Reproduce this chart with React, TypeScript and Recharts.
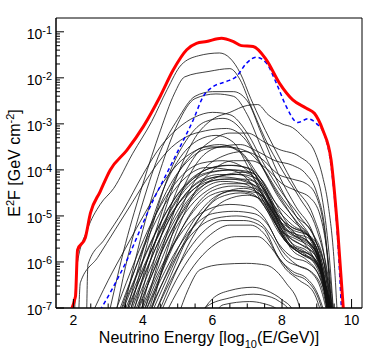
import React from "react";
import { LineChart, Line, XAxis, YAxis, ReferenceArea } from "recharts";

// each curve: [log10(E/GeV), log10(E^2 F)]
type Pt = [number, number];

const totalFlux: Pt[] = [
  [1.79, -7.2], [2.06, -6.75], [2.12, -5.74], [2.34, -5.48], [2.49, -4.94], [2.77, -4.47],
  [3.06, -4.0], [3.54, -3.57], [4.01, -3.06], [4.49, -2.41], [4.87, -1.83], [5.26, -1.39],
  [5.54, -1.25], [5.83, -1.21], [6.26, -1.14], [6.59, -1.21], [6.83, -1.3], [7.17, -1.32],
  [7.55, -1.61], [7.93, -2.12], [8.31, -2.48], [8.7, -2.66], [8.93, -2.77], [9.17, -3.13],
  [9.41, -3.78], [9.6, -5.3], [9.78, -7.2],
];

const diffuseFlux: Pt[] = [
  [2.77, -7.05], [3.15, -6.54], [3.54, -5.96], [3.92, -5.3], [4.3, -4.65], [4.59, -4.22],
  [5.02, -3.57], [5.45, -2.91], [5.73, -2.41], [6.02, -2.19], [6.4, -2.08], [6.69, -1.97],
  [6.98, -1.68], [7.26, -1.55], [7.55, -1.68], [7.84, -2.12], [8.12, -2.62], [8.45, -2.97],
  [8.75, -2.89], [9.0, -3.0], [9.2, -3.2], [9.4, -3.85], [9.6, -5.5], [9.72, -7.2],
];

const sourceFluxes: Pt[][] = [
  // brightest
  [[2.03, -7.2], [2.1, -6.1], [2.4, -5.3], [2.77, -4.75], [3.16, -4.4], [3.7, -3.65], [4.25, -2.95], [4.7, -2.25], [5.1, -1.72], [5.6, -1.52], [6.2, -1.46], [6.5, -1.57], [6.8, -1.9], [7.1, -2.45], [7.4, -2.95], [7.9, -3.7], [8.4, -4.4], [8.9, -5.0], [9.2, -5.8], [9.45, -7.3]],
  [[3.0, -7.2], [3.5, -5.6], [4.0, -4.3], [4.5, -3.15], [4.9, -2.35], [5.2, -1.98], [5.9, -1.86], [6.5, -1.8], [6.8, -2.05], [7.1, -2.6], [7.5, -3.3], [8.0, -4.0], [8.5, -4.6], [9.0, -5.3], [9.3, -6.2], [9.5, -7.3]],
  // upper group
  [[3.2, -7.2], [3.5, -6.1], [4.0, -4.7], [4.5, -3.6], [5.0, -2.9], [5.5, -2.4], [6.0, -2.3], [6.6, -2.3], [7.0, -2.5], [7.4, -3.2], [7.9, -4.1], [8.4, -4.8], [8.9, -5.4], [9.2, -6.2], [9.4, -7.3]],
  [[3.4, -7.2], [4.0, -5.3], [4.5, -4.0], [5.0, -3.0], [5.5, -2.45], [6.1, -2.35], [6.6, -2.4], [7.0, -2.8], [7.4, -3.5], [7.9, -4.3], [8.4, -5.0], [8.9, -5.6], [9.25, -6.5], [9.4, -7.3]],
  [[3.8, -7.2], [4.5, -5.2], [5.0, -4.1], [5.5, -3.3], [6.0, -2.9], [6.5, -2.75], [7.0, -2.6], [7.3, -2.58], [7.6, -2.8], [8.0, -3.0], [8.3, -3.08], [8.6, -3.28], [8.95, -3.62], [9.17, -4.15], [9.32, -4.72], [9.5, -6.0], [9.6, -7.3]],
  [[3.6, -7.2], [4.2, -5.4], [4.8, -4.0], [5.3, -3.3], [5.8, -2.95], [6.3, -2.88], [6.8, -3.1], [7.2, -3.6], [7.7, -4.3], [8.2, -4.9], [8.7, -5.5], [9.1, -6.2], [9.35, -7.3]],
  [[2.38, -7.2], [2.42, -6.05], [2.9, -5.5], [3.44, -4.87], [4.0, -4.1], [4.5, -3.5], [5.0, -3.1], [5.5, -2.85], [6.0, -2.75], [6.5, -2.8], [7.0, -3.2], [7.5, -3.9], [8.0, -4.5], [8.5, -5.0], [9.0, -5.6], [9.3, -6.4], [9.45, -7.3]],
  [[2.49, -7.2], [3.0, -6.4], [3.5, -5.7], [4.11, -4.87], [4.6, -4.25], [5.1, -3.8], [5.6, -3.55], [6.2, -3.45], [6.8, -3.6], [7.3, -4.1], [7.8, -4.7], [8.3, -5.1], [8.8, -5.5], [9.1, -6.1], [9.35, -7.3]],
  [[2.15, -7.2], [2.2, -6.45], [2.7, -5.9], [3.2, -5.3], [3.7, -4.7], [4.2, -4.1], [4.7, -3.6], [5.2, -3.3], [5.8, -3.15], [6.4, -3.1], [6.9, -3.3], [7.4, -3.9], [7.9, -4.6], [8.4, -5.1], [8.9, -5.6], [9.2, -6.3], [9.4, -7.3]],
  // middle group
  [[3.9, -7.2], [4.5, -5.5], [5.0, -4.4], [5.5, -3.7], [6.0, -3.35], [6.5, -3.2], [7.0, -3.2], [7.5, -3.4], [7.9, -3.55], [8.5, -3.71], [8.9, -4.0], [9.15, -4.6], [9.35, -5.8], [9.5, -7.3]],
  [[4.0, -7.2], [4.6, -5.6], [5.1, -4.5], [5.6, -3.8], [6.2, -3.5], [6.8, -3.45], [7.3, -3.6], [7.8, -3.8], [8.3, -3.9], [8.7, -4.1], [9.0, -4.5], [9.25, -5.4], [9.45, -7.3]],
  [[3.5, -7.2], [4.1, -5.5], [4.6, -4.4], [5.1, -3.7], [5.6, -3.35], [6.1, -3.25], [6.6, -3.4], [7.0, -3.9], [7.4, -4.5], [7.9, -5.0], [8.4, -5.4], [8.9, -5.9], [9.2, -6.5], [9.35, -7.3]],
  [[3.7, -7.2], [4.3, -5.5], [4.8, -4.4], [5.3, -3.75], [5.8, -3.5], [6.4, -3.5], [7.0, -3.6], [7.4, -3.9], [7.9, -4.5], [8.4, -5.0], [8.9, -5.4], [9.2, -6.0], [9.4, -7.3]],
  [[4.2, -7.2], [4.8, -5.5], [5.3, -4.5], [5.8, -3.95], [6.3, -3.7], [6.9, -3.6], [7.4, -3.75], [7.9, -4.1], [8.3, -4.2], [8.7, -4.3], [9.0, -4.6], [9.25, -5.5], [9.45, -7.3]],
  [[3.3, -7.2], [3.8, -6.1], [4.3, -5.1], [4.8, -4.3], [5.3, -3.8], [5.8, -3.55], [6.4, -3.5], [6.9, -3.7], [7.3, -4.2], [7.8, -4.8], [8.3, -5.2], [8.8, -5.45], [9.1, -6.0], [9.35, -7.3]],
  [[4.1, -7.2], [4.6, -6.1], [5.1, -5.1], [5.6, -4.35], [6.1, -3.95], [6.6, -3.8], [7.1, -3.8], [7.6, -4.0], [8.0, -4.3], [8.4, -4.45], [8.8, -4.6], [9.1, -5.0], [9.3, -5.8], [9.5, -7.3]],
  // bulk
  [[3.3, -7.2], [3.8, -6.3], [4.3, -5.45], [4.8, -4.75], [5.3, -4.25], [5.8, -4.0], [6.4, -3.9], [7.0, -3.95], [7.4, -4.2], [7.9, -4.95], [8.3, -5.35], [8.8, -5.5], [9.1, -5.95], [9.4, -7.3]],
  [[3.45, -7.2], [3.95, -6.3], [4.45, -5.4], [4.95, -4.7], [5.45, -4.25], [6.0, -4.05], [6.6, -4.0], [7.1, -4.05], [7.5, -4.4], [7.9, -5.05], [8.4, -5.45], [8.8, -5.6], [9.15, -6.15], [9.4, -7.3]],
  [[3.6, -7.2], [4.1, -6.2], [4.6, -5.3], [5.1, -4.65], [5.6, -4.25], [6.2, -4.1], [6.8, -4.1], [7.3, -4.2], [7.7, -4.7], [8.1, -5.3], [8.5, -5.5], [8.9, -5.7], [9.2, -6.35], [9.45, -7.3]],
  [[3.7, -7.2], [4.2, -6.3], [4.7, -5.4], [5.2, -4.75], [5.7, -4.35], [6.3, -4.2], [6.9, -4.2], [7.4, -4.35], [7.8, -4.9], [8.2, -5.45], [8.6, -5.65], [9.0, -5.9], [9.25, -6.45], [9.45, -7.3]],
  [[3.85, -7.2], [4.35, -6.3], [4.85, -5.4], [5.35, -4.8], [5.85, -4.45], [6.4, -4.3], [7.0, -4.3], [7.5, -4.5], [7.9, -5.1], [8.3, -5.6], [8.7, -5.75], [9.0, -6.0], [9.3, -6.65], [9.5, -7.3]],
  [[4.0, -7.2], [4.5, -6.3], [5.0, -5.45], [5.5, -4.8], [6.0, -4.45], [6.6, -4.35], [7.2, -4.4], [7.6, -4.7], [8.0, -5.3], [8.4, -5.7], [8.8, -5.85], [9.1, -6.2], [9.35, -6.85], [9.5, -7.3]],
  [[3.25, -7.2], [3.75, -6.2], [4.25, -5.3], [4.75, -4.6], [5.25, -4.15], [5.8, -3.95], [6.5, -4.0], [7.0, -4.2], [7.5, -4.8], [8.0, -5.35], [8.4, -5.5], [8.9, -5.75], [9.2, -6.4], [9.4, -7.3]],
  [[3.55, -7.2], [4.05, -6.25], [4.55, -5.4], [5.05, -4.7], [5.55, -4.3], [6.1, -4.15], [6.7, -4.1], [7.2, -4.25], [7.6, -4.75], [8.0, -5.25], [8.4, -5.4], [8.8, -5.6], [9.1, -6.05], [9.4, -7.3]],
  [[4.15, -7.2], [4.65, -6.3], [5.15, -5.5], [5.65, -4.9], [6.15, -4.55], [6.7, -4.45], [7.3, -4.5], [7.7, -4.9], [8.1, -5.5], [8.5, -5.8], [8.9, -5.95], [9.2, -6.4], [9.4, -6.95], [9.5, -7.3]],
  [[3.4, -7.2], [3.9, -6.3], [4.4, -5.5], [4.9, -4.85], [5.4, -4.45], [5.9, -4.25], [6.5, -4.2], [7.1, -4.3], [7.6, -4.85], [8.1, -5.55], [8.5, -5.8], [8.9, -6.0], [9.2, -6.55], [9.4, -7.3]],
  [[4.3, -7.2], [4.8, -6.3], [5.3, -5.45], [5.8, -4.85], [6.3, -4.5], [6.9, -4.4], [7.4, -4.55], [7.8, -5.0], [8.2, -5.6], [8.6, -5.85], [9.0, -6.05], [9.3, -6.65], [9.5, -7.3]],
  [[3.15, -7.2], [3.65, -6.2], [4.15, -5.3], [4.65, -4.6], [5.15, -4.1], [5.7, -3.85], [6.3, -3.8], [6.9, -3.95], [7.3, -4.3], [7.8, -5.0], [8.3, -5.3], [8.8, -5.45], [9.1, -6.0], [9.35, -7.3]],
  [[3.75, -7.2], [4.25, -6.3], [4.75, -5.45], [5.25, -4.8], [5.75, -4.4], [6.3, -4.25], [6.9, -4.3], [7.4, -4.6], [7.8, -5.15], [8.2, -5.6], [8.6, -5.75], [9.0, -6.0], [9.3, -6.65], [9.5, -7.3]],
  [[3.5, -7.2], [4.0, -6.2], [4.5, -5.3], [5.0, -4.6], [5.5, -4.15], [6.0, -3.95], [6.6, -3.9], [7.1, -4.0], [7.5, -4.5], [7.9, -5.1], [8.3, -5.4], [8.75, -5.55], [9.1, -6.05], [9.4, -7.3]],
  [[3.95, -7.2], [4.45, -6.3], [4.95, -5.5], [5.45, -4.9], [5.95, -4.55], [6.5, -4.45], [7.1, -4.5], [7.5, -4.8], [7.9, -5.35], [8.3, -5.7], [8.7, -5.85], [9.05, -6.15], [9.3, -6.75], [9.45, -7.3]],
  [[3.65, -7.2], [4.15, -6.25], [4.65, -5.4], [5.15, -4.7], [5.65, -4.3], [6.2, -4.15], [6.8, -4.2], [7.3, -4.4], [7.7, -4.95], [8.1, -5.4], [8.5, -5.6], [8.9, -5.8], [9.2, -6.35], [9.45, -7.3]],
  [[4.4, -7.2], [4.9, -6.3], [5.4, -5.5], [5.9, -4.95], [6.4, -4.65], [7.0, -4.55], [7.5, -4.7], [7.9, -5.25], [8.3, -5.75], [8.7, -5.95], [9.0, -6.2], [9.3, -6.85], [9.45, -7.3]],
  [[3.35, -7.2], [3.85, -6.25], [4.35, -5.4], [4.85, -4.7], [5.35, -4.25], [5.9, -4.05], [6.5, -4.0], [7.1, -4.1], [7.5, -4.45], [7.9, -5.0], [8.3, -5.25], [8.7, -5.4], [9.05, -5.8], [9.3, -6.5], [9.45, -7.3]],
  [[3.8, -7.2], [4.3, -6.2], [4.8, -5.35], [5.3, -4.7], [5.8, -4.3], [6.4, -4.1], [7.0, -4.05], [7.4, -4.2], [7.8, -4.7], [8.2, -5.2], [8.6, -5.35], [9.0, -5.6], [9.25, -6.15], [9.5, -7.3]],
  [[4.2, -7.2], [4.7, -6.35], [5.2, -5.55], [5.7, -4.95], [6.2, -4.6], [6.8, -4.5], [7.3, -4.6], [7.7, -5.0], [8.1, -5.55], [8.5, -5.75], [8.9, -5.9], [9.2, -6.4], [9.4, -7.3]],
  // lower bulk
  [[4.0, -7.2], [4.5, -6.4], [5.0, -5.7], [5.5, -5.2], [6.0, -4.95], [6.6, -4.9], [7.2, -4.95], [7.6, -5.2], [8.0, -5.75], [8.4, -6.05], [8.8, -6.2], [9.1, -6.55], [9.35, -7.3]],
  [[4.3, -7.2], [4.8, -6.4], [5.3, -5.75], [5.8, -5.3], [6.3, -5.1], [6.9, -5.1], [7.45, -5.25], [7.9, -5.9], [8.3, -6.2], [8.7, -6.35], [9.0, -6.65], [9.3, -7.3]],
  [[3.9, -7.2], [4.4, -6.3], [4.9, -5.6], [5.4, -5.1], [5.9, -4.85], [6.5, -4.75], [7.1, -4.8], [7.5, -5.05], [7.9, -5.6], [8.3, -5.9], [8.7, -6.0], [9.1, -6.35], [9.4, -7.3]],
  [[4.6, -7.2], [5.1, -6.5], [5.6, -5.95], [6.1, -5.6], [6.7, -5.45], [7.3, -5.45], [7.7, -5.7], [8.1, -6.15], [8.5, -6.4], [8.9, -6.65], [9.2, -7.3]],
  [[4.45, -7.2], [4.95, -6.4], [5.45, -5.8], [5.95, -5.4], [6.5, -5.2], [7.1, -5.2], [7.5, -5.4], [7.9, -5.9], [8.3, -6.25], [8.7, -6.4], [9.05, -6.8], [9.25, -7.3]],
  [[4.1, -7.2], [4.6, -6.4], [5.1, -5.7], [5.6, -5.25], [6.1, -5.05], [6.7, -5.0], [7.3, -5.1], [7.7, -5.45], [8.1, -5.95], [8.5, -6.1], [8.9, -6.25], [9.2, -6.7], [9.35, -7.3]],
  // faint
  [[5.0, -7.2], [5.3, -6.6], [5.64, -6.17], [6.3, -6.05], [6.98, -6.03], [7.55, -6.07], [8.12, -6.46], [8.5, -6.97], [8.6, -7.3]],
  [[5.6, -7.2], [5.83, -6.97], [6.5, -6.78], [7.17, -6.7], [7.45, -6.72], [7.93, -6.86], [8.2, -7.05], [8.3, -7.3]],
  [[6.0, -7.2], [6.31, -6.93], [7.07, -6.86], [7.45, -6.9], [7.9, -7.05], [8.0, -7.3]],
  [[5.6, -7.2], [6.0, -6.8], [6.5, -6.62], [7.16, -6.55], [7.55, -6.62], [8.0, -6.82], [8.31, -7.05], [8.4, -7.3]],
];

const xMajor = [2, 4, 6, 8, 10];
const xTicks = [2, 2.5, 3, 3.5, 4, 4.5, 5, 5.5, 6, 6.5, 7, 7.5, 8, 8.5, 9, 9.5, 10];
const yDecades = [-7, -6, -5, -4, -3, -2, -1];

const yTicks: number[] = [];
yDecades.forEach((d) => {
  yTicks.push(d);
  if (d < -1) for (let k = 2; k <= 9; k++) yTicks.push(d + Math.log10(k));
});

const font = "'Liberation Sans', Arial, sans-serif";

const toPoints = (c: Pt[]) => c.map(([e, f]) => ({ e, f }));

const XTick = (props: any) => {
  const { x, y, payload } = props;
  const major = xMajor.includes(payload.value);
  return (
    <g>
      <line x1={x} x2={x} y1={y} y2={y - (major ? 9 : 4.5)} stroke="#000" />
      {major && (
        <text x={x} y={y + 17} textAnchor="middle" fontSize={14} fontFamily={font} fill="#000">
          {payload.value}
        </text>
      )}
    </g>
  );
};

const YTick = (props: any) => {
  const { x, y, payload } = props;
  const v = payload.value;
  const major = Math.abs(v - Math.round(v)) < 1e-9;
  return (
    <g>
      <line x1={x} x2={x + (major ? 8 : 4)} y1={y} y2={y} stroke="#000" />
      {major && (
        <text x={x - 4} y={y + 7} textAnchor="end" fontSize={14} fontFamily={font} fill="#000">
          10<tspan dy={-5} fontSize={11}>{Math.round(v)}</tspan>
        </text>
      )}
    </g>
  );
};

export default function App() {
  return (
    <div style={{ position: "absolute", left: 0, top: 0, background: "#fff" }}>
      <LineChart width={374} height={363} margin={{ top: 18, right: 12, left: 0, bottom: 0 }}>
        <XAxis
          dataKey="e"
          type="number"
          domain={[1.5, 10.3]}
          ticks={xTicks}
          interval={0}
          allowDataOverflow
          tickSize={0}
          tickMargin={0}
          tickLine={false}
          tick={<XTick />}
          height={55}
          stroke="#000"
          label={{
            content: () => (
              <text x={209} y={343} textAnchor="middle" fontSize={16} fontFamily={font} fill="#000">
                Neutrino Energy [log<tspan dy={5} fontSize={11}>10</tspan>
                <tspan dy={-5}>(E/GeV)]</tspan>
              </text>
            ),
          }}
        />
        <YAxis
          dataKey="f"
          type="number"
          domain={[-7, -0.7]}
          ticks={yTicks}
          interval={0}
          allowDataOverflow
          tickSize={0}
          tickMargin={0}
          tickLine={false}
          tick={<YTick />}
          width={56}
          stroke="#000"
          label={{
            content: () => (
              <text
                x={20}
                y={163}
                textAnchor="middle"
                fontSize={16}
                fontFamily={font}
                fill="#000"
                transform="rotate(-90 20 163)"
              >
                E<tspan dy={-6} fontSize={11}>2</tspan>
                <tspan dy={6}>F [GeV cm</tspan>
                <tspan dy={-6} fontSize={11}>-2</tspan>
                <tspan dy={6}>]</tspan>
              </text>
            ),
          }}
        />
        <ReferenceArea x1={1.5} x2={10.3} y1={-7} y2={-0.7} fill="none" stroke="#000" strokeWidth={1} ifOverflow="visible" />
        {sourceFluxes.map((c, i) => (
          <Line
            key={`src-${i}`}
            data={toPoints(c)}
            dataKey="f"
            type="monotone"
            stroke="#111"
            strokeOpacity={0.8}
            strokeWidth={1}
            dot={false}
            isAnimationActive={false}
          />
        ))}
        <Line
          data={toPoints(diffuseFlux)}
          dataKey="f"
          type="monotone"
          stroke="#0000ff"
          strokeWidth={1.5}
          strokeDasharray="4 3"
          dot={false}
          isAnimationActive={false}
        />
        <Line
          data={toPoints(totalFlux)}
          dataKey="f"
          type="monotone"
          stroke="#ff0000"
          strokeWidth={3}
          dot={false}
          isAnimationActive={false}
        />
      </LineChart>
    </div>
  );
}
